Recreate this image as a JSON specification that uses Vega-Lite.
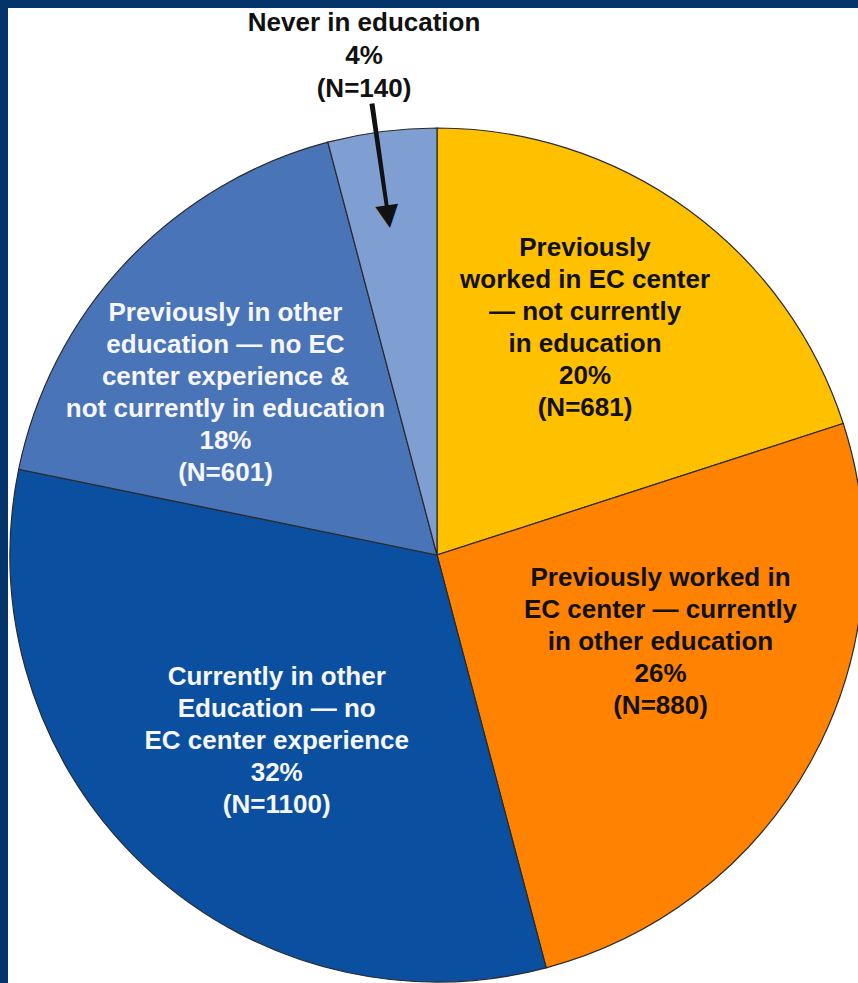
{
  "$schema": "https://vega.github.io/schema/vega-lite/v6.json",
  "width": 850,
  "height": 975,
  "autosize": {"type": "none"},
  "padding": {"left": 8, "top": 8, "right": 0, "bottom": 0},
  "background": "#04356A",
  "view": {"fill": "white", "stroke": null},
  "config": {"view": {"fill": "white", "stroke": null}, "text": {"font": "Liberation Sans"}},
  "data": {
    "values": [
      {"idx": 1, "cat": "Previously worked in EC center — not currently in education", "n": 681, "label": "Previously\nworked in EC center\n— not currently\nin education\n20%\n(N=681)"},
      {"idx": 2, "cat": "Previously worked in EC center — currently in other education", "n": 880, "label": "Previously worked in\nEC center — currently\nin other education\n26%\n(N=880)"},
      {"idx": 3, "cat": "Currently in other Education — no EC center experience", "n": 1100, "label": "Currently in other\nEducation — no\nEC center experience\n32%\n(N=1100)"},
      {"idx": 4, "cat": "Previously in other education — no EC center experience & not currently in education", "n": 601, "label": "Previously in other\neducation — no EC\ncenter experience &\nnot currently in education\n18%\n(N=601)"},
      {"idx": 5, "cat": "Never in education", "n": 140, "label": "Never in education\n4%\n(N=140)"}
    ]
  },
  "layer": [
    {
      "mark": {"type": "arc", "x": 429, "y": 547, "outerRadius": 427, "stroke": "#2a2a2a", "strokeWidth": 1.2},
      "encoding": {
        "theta": {"field": "n", "type": "quantitative", "stack": true},
        "order": {"field": "idx", "type": "quantitative"},
        "color": {
          "field": "cat", "type": "nominal", "legend": null,
          "scale": {
            "domain": [
              "Previously worked in EC center — not currently in education",
              "Previously worked in EC center — currently in other education",
              "Currently in other Education — no EC center experience",
              "Previously in other education — no EC center experience & not currently in education",
              "Never in education"
            ],
            "range": ["#FFC000", "#FF8200", "#0B50A0", "#4A74B8", "#7F9FD2"]
          }
        }
      }
    },
    {
      "mark": {"type": "text", "x": 429, "y": 547, "radius": 271, "thetaOffset": -0.051, "dy": -80, "fontSize": 26, "fontWeight": "bold", "lineBreak": "\n", "lineHeight": 32, "align": "center", "baseline": "middle", "fill": "#111111"},
      "encoding": {
        "theta": {"field": "n", "type": "quantitative", "stack": true},
        "order": {"field": "idx", "type": "quantitative"},
        "detail": {"field": "cat"},
        "text": {"condition": {"test": "datum.idx == 1", "field": "label"}, "value": ""}
      }
    },
    {
      "mark": {"type": "text", "x": 429, "y": 547, "radius": 240, "thetaOffset": -0.127, "dy": -64, "fontSize": 26, "fontWeight": "bold", "lineBreak": "\n", "lineHeight": 32, "align": "center", "baseline": "middle", "fill": "#111111"},
      "encoding": {
        "theta": {"field": "n", "type": "quantitative", "stack": true},
        "order": {"field": "idx", "type": "quantitative"},
        "detail": {"field": "cat"},
        "text": {"condition": {"test": "datum.idx == 2", "field": "label"}, "value": ""}
      }
    },
    {
      "mark": {"type": "text", "x": 429, "y": 547, "radius": 245, "thetaOffset": -0.044, "dy": -63, "fontSize": 26, "fontWeight": "bold", "lineBreak": "\n", "lineHeight": 32, "align": "center", "baseline": "middle", "fill": "#F6F6F6"},
      "encoding": {
        "theta": {"field": "n", "type": "quantitative", "stack": true},
        "order": {"field": "idx", "type": "quantitative"},
        "detail": {"field": "cat"},
        "text": {"condition": {"test": "datum.idx == 3", "field": "label"}, "value": ""}
      }
    },
    {
      "mark": {"type": "text", "x": 429, "y": 547, "radius": 267, "thetaOffset": -0.101, "dy": -79, "fontSize": 26, "fontWeight": "bold", "lineBreak": "\n", "lineHeight": 32, "align": "center", "baseline": "middle", "fill": "#F6F6F6"},
      "encoding": {
        "theta": {"field": "n", "type": "quantitative", "stack": true},
        "order": {"field": "idx", "type": "quantitative"},
        "detail": {"field": "cat"},
        "text": {"condition": {"test": "datum.idx == 4", "field": "label"}, "value": ""}
      }
    },
    {
      "mark": {"type": "text", "x": 429, "y": 547, "radius": 504, "thetaOffset": -0.016, "dy": -33, "fontSize": 26, "fontWeight": "bold", "lineBreak": "\n", "lineHeight": 33, "align": "center", "baseline": "middle", "fill": "#111111"},
      "encoding": {
        "theta": {"field": "n", "type": "quantitative", "stack": true},
        "order": {"field": "idx", "type": "quantitative"},
        "detail": {"field": "cat"},
        "text": {"condition": {"test": "datum.idx == 5", "field": "label"}, "value": ""}
      }
    },
    {
      "transform": [{"filter": "datum.idx == 5"}],
      "mark": {"type": "arc", "x": 429, "y": 547, "outerRadius": 456, "innerRadius": 348, "fill": "#111111"},
      "encoding": {
        "theta": {"datum": 3321.5, "type": "quantitative"},
        "theta2": {"datum": 3327.5}
      }
    },
    {
      "transform": [{"filter": "datum.idx == 5"}],
      "mark": {"type": "text", "x": 429, "y": 547, "radius": 343, "angle": 351.8, "text": "▼", "font": "DejaVu Sans", "fontSize": 30, "fill": "#111111", "align": "center", "baseline": "middle"},
      "encoding": {
        "theta": {"datum": 3324.5, "type": "quantitative"}
      }
    }
  ]
}
